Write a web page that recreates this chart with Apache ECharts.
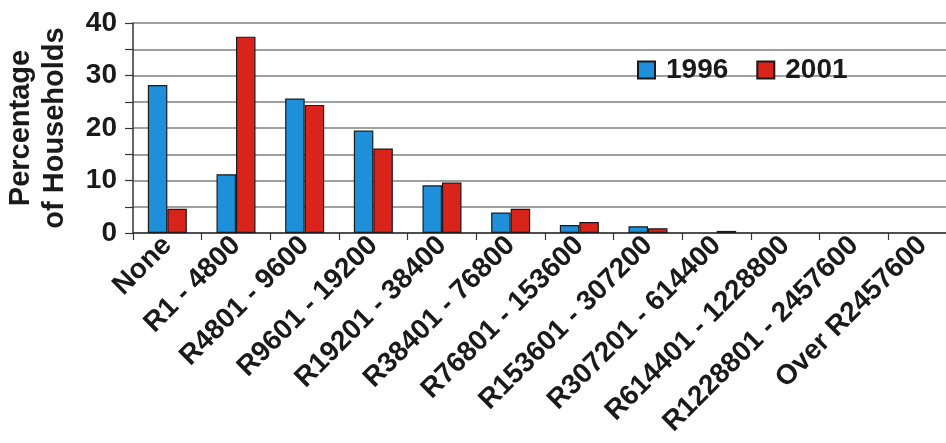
<!DOCTYPE html>
<html>
<head>
<meta charset="utf-8">
<script src="https://cdn.jsdelivr.net/npm/echarts@6/dist/echarts.min.js"></script>
<style>
  html, body { margin: 0; padding: 0; background: #fff; }
  #chart { width: 946px; height: 443px; }
</style>
</head>
<body>
<div id="chart"></div>
<script>
// Household income brackets (annual, Rand)
const categories = [
  'None', 'R1 - 4800', 'R4801 - 9600', 'R9601 - 19200', 'R19201 - 38400',
  'R38401 - 76800', 'R76801 - 153600', 'R153601 - 307200', 'R307201 - 614400',
  'R614401 - 1228800', 'R1228801 - 2457600', 'Over R2457600'
];
// Percentage of households per bracket
const values1996 = [28.2, 11.2, 25.6, 19.5, 9.1, 3.9, 1.5, 1.3, 0, 0, 0, 0];
const values2001 = [4.6, 37.4, 24.4, 16.1, 9.6, 4.6, 2.1, 0.9, 0.4, 0, 0, 0];
const seriesNames = ['1996', '2001'];
const yTicks = [0, 10, 20, 30, 40];

const chart = echarts.init(document.getElementById('chart'), null, { renderer: 'canvas' });

const font = 'Liberation Sans';
const barStyle = (color) => ({ color: color, borderColor: '#1a1a1a', borderWidth: 1.2 });
// empty brackets get no bar at all (avoids a stray outline on the baseline)
const barData = (arr) => arr.map((v) => (v === 0 ? '-' : v));

chart.setOption({
  animation: false,
  backgroundColor: '#ffffff',
  grid: { left: 133, top: 23, width: 824, height: 210, containLabel: false, outerBoundsMode: 'none' },
  legend: {
    data: seriesNames,
    left: 632, top: 51,
    itemWidth: 17, itemHeight: 17, itemGap: 28,
    icon: 'rect',
    textStyle: { fontFamily: font, fontWeight: 'bold', fontSize: 28, color: '#1a1a1a', padding: [0, 0, 0, 6] }
  },
  xAxis: {
    type: 'category',
    data: categories,
    axisLine: { lineStyle: { color: '#333', width: 1.5 } },
    axisTick: { show: true, length: 7, lineStyle: { color: '#333', width: 1.2 } },
    axisLabel: {
      rotate: 45, interval: 0, margin: 8,
      fontFamily: font, fontWeight: 'bold', fontSize: 28, color: '#1a1a1a'
    }
  },
  yAxis: {
    type: 'value',
    min: 0, max: 40, interval: 5,
    name: 'Percentage\nof Households',
    nameLocation: 'middle',
    nameRotate: 90,
    nameGap: 61,
    nameTextStyle: { fontFamily: font, fontWeight: 'bold', fontSize: 29, color: '#1a1a1a', lineHeight: 34, align: 'center' },
    axisLine: { show: true, lineStyle: { color: '#333', width: 1.5 } },
    axisTick: { show: true, length: 8, lineStyle: { color: '#333', width: 1.2 } },
    axisLabel: {
      margin: 16,
      fontFamily: font, fontWeight: 'bold', fontSize: 28, color: '#1a1a1a',
      formatter: (v) => (yTicks.indexOf(v) >= 0 ? String(v) : '')
    },
    splitLine: { show: true, lineStyle: { color: '#808080', width: 1.6 } }
  },
  series: [
    { name: seriesNames[0], type: 'bar', data: barData(values1996), barWidth: 19.5, barGap: '0%', itemStyle: barStyle('#1e8fd9') },
    { name: seriesNames[1], type: 'bar', data: barData(values2001), barWidth: 19.5, barGap: '0%', itemStyle: barStyle('#d9241c') }
  ]
});
</script>
</body>
</html>
